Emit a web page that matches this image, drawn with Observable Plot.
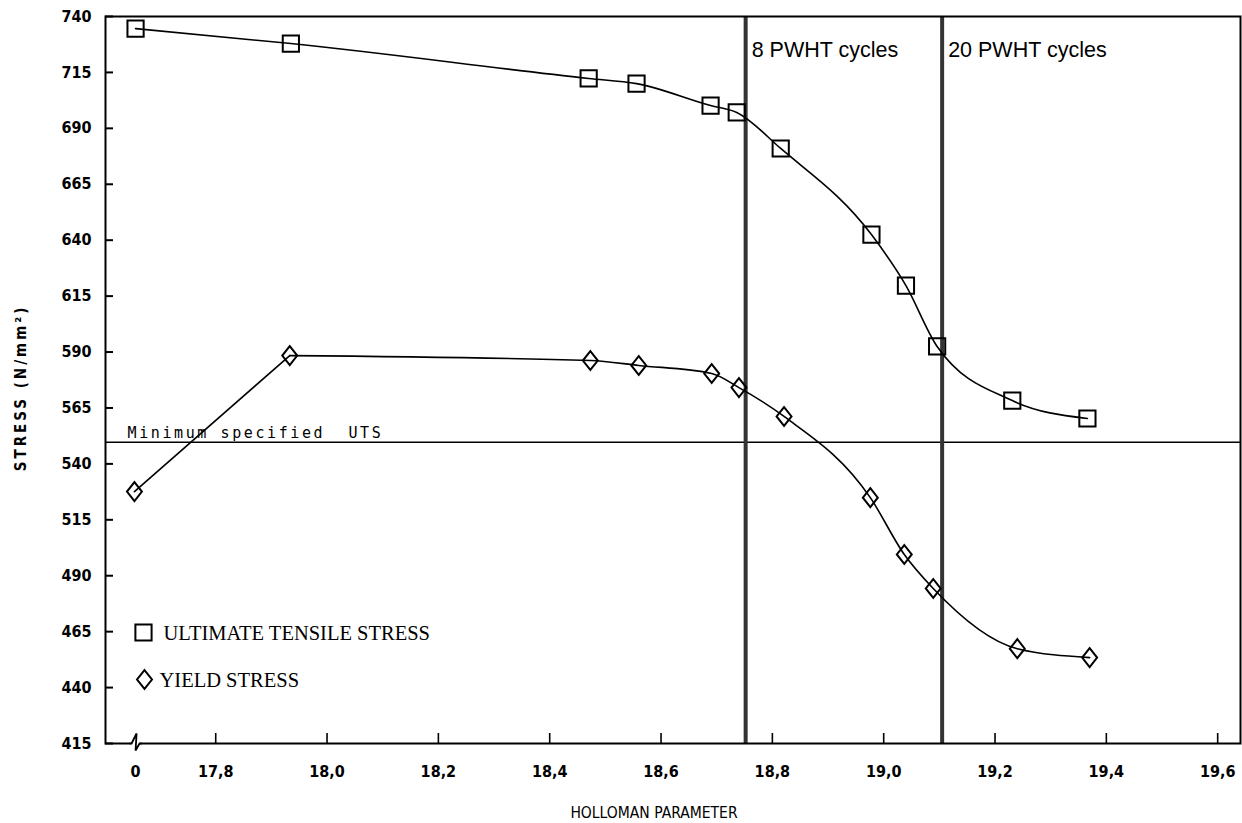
<!DOCTYPE html>
<html><head><meta charset="utf-8">
<script src="https://cdn.jsdelivr.net/npm/d3@7"></script>
<script src="https://cdn.jsdelivr.net/npm/@observablehq/plot@0.6"></script>
<style>
body{margin:0;background:#fff}
[aria-label="ytitle"]{letter-spacing:3px}
[aria-label="utslabel"]{letter-spacing:2.6px}
</style></head><body><div id="chart"></div>
<script>
// ---- data ----
const utsX   = [17.656, 17.935, 18.470, 18.556, 18.689, 18.736, 18.815, 18.978, 19.040, 19.096, 19.231, 19.366];
const utsY   = [734.6, 727.9, 712.3, 710.0, 700.2, 697.1, 681.0, 642.5, 619.7, 592.5, 568.3, 560.3];
const yieldX = [17.654, 17.933, 18.473, 18.560, 18.691, 18.740, 18.821, 18.976, 19.037, 19.089, 19.240, 19.370];
const yieldY = [527.6, 588.4, 586.2, 584.0, 580.4, 574.1, 561.2, 524.9, 499.5, 484.3, 457.4, 453.4];
const xTickValues = [17.656, 17.8, 18.0, 18.2, 18.4, 18.6, 18.8, 19.0, 19.2, 19.4, 19.6];
const xTickLabels = ["0", "17,8", "18,0", "18,2", "18,4", "18,6", "18,8", "19,0", "19,2", "19,4", "19,6"];
const yTicks = [415, 440, 465, 490, 515, 540, 565, 590, 615, 640, 665, 690, 715, 740];
const pwhtX = [18.752, 19.105];
const pwhtLabels = ["8 PWHT cycles", "20 PWHT cycles"];
const minUTS = 549.7;
const minUTSLabel = "Minimum specified\u00a0 UTS";
const legendLabels = ["ULTIMATE TENSILE STRESS", "YIELD STRESS"];
const xTitle = "HOLLOMAN PARAMETER";
const yTitle = "STRESS (N/mm\u00b2)";

const uts = utsX.map((x, i) => ({x, y: utsY[i]}));
const yld = yieldX.map((x, i) => ({x, y: yieldY[i]}));

// ---- symbols ----
const squareSym = {draw(ctx, size) {const r = Math.sqrt(size / Math.PI) * 0.9;
  ctx.moveTo(-r, -r); ctx.lineTo(r, -r); ctx.lineTo(r, r); ctx.lineTo(-r, r); ctx.closePath();}};
const diamondSym = {draw(ctx, size) {const r = Math.sqrt(size / Math.PI);
  ctx.moveTo(0, -r * 1.05); ctx.lineTo(r * 0.83, 0); ctx.lineTo(0, r * 1.05); ctx.lineTo(-r * 0.83, 0); ctx.closePath();}};
const gapSym = {draw(ctx) {ctx.moveTo(-5, -2.5); ctx.lineTo(4.5, -2.5); ctx.lineTo(4.5, 2.5); ctx.lineTo(-5, 2.5); ctx.closePath();}};
const breakSym = {draw(ctx) {ctx.moveTo(-6, 0); ctx.lineTo(-4, 0); ctx.lineTo(1, -10); ctx.lineTo(0, 7); ctx.lineTo(4, 0); ctx.lineTo(6, 0);}};

const W = 1242, H = 823, mL = 105, mR = 2, mT = 16, mB = 80;
const plotW = W - mL - mR, plotH = H - mT - mB;
const tickFont = {fontFamily: "DejaVu Sans Condensed", fontWeight: "bold", fontSize: 16};

const chart = Plot.plot({
  width: W, height: H,
  marginLeft: mL, marginRight: mR, marginTop: mT, marginBottom: mB,
  style: {background: "white", color: "black"},
  x: {domain: [17.602, 19.641], label: null},
  y: {domain: [415, 740], label: null},
  marks: [
    Plot.ruleY([minUTS], {stroke: "black", strokeWidth: 1.5}),
    Plot.ruleX(pwhtX, {stroke: "#333", strokeWidth: 4}),
    Plot.line(uts, {x: "x", y: "y", curve: "monotone-x", stroke: "black", strokeWidth: 1.6}),
    Plot.line(yld.slice(0, 2), {x: "x", y: "y", stroke: "black", strokeWidth: 1.6}),
    Plot.line(yld.slice(1), {x: "x", y: "y", curve: "monotone-x", stroke: "black", strokeWidth: 1.6}),
    Plot.dot(uts, {x: "x", y: "y", symbol: squareSym, r: 9, stroke: "black", strokeWidth: 2, fill: "none"}),
    Plot.dot(yld, {x: "x", y: "y", symbol: diamondSym, r: 9, stroke: "black", strokeWidth: 2, fill: "none"}),
    Plot.tickY(yTicks, {y: d => d, insetRight: plotW - 8, stroke: "black", strokeWidth: 2}),
    Plot.tickX(xTickValues.slice(1), {x: d => d, insetTop: plotH - 10, stroke: "black", strokeWidth: 1.6}),
    Plot.frame({stroke: "black", strokeWidth: 2}),
    Plot.dot([xTickValues[0]], {x: d => d, frameAnchor: "bottom", symbol: gapSym, r: 5, fill: "white", stroke: "none"}),
    Plot.dot([xTickValues[0]], {x: d => d, frameAnchor: "bottom", symbol: breakSym, r: 5, fill: "none", stroke: "black", strokeWidth: 1.8}),
    Plot.axisY(yTicks, {anchor: "left", tickSize: 0, tickPadding: 14, tickFormat: d => String(d), label: null, ...tickFont}),
    Plot.axisX(xTickValues, {anchor: "bottom", tickSize: 0, tickPadding: 22, tickFormat: d => xTickLabels[xTickValues.indexOf(d)], label: null, ...tickFont}),
    Plot.text(pwhtLabels, {x: (d, i) => pwhtX[i], frameAnchor: "top", lineAnchor: "middle", dx: 6, dy: 33.5, textAnchor: "start", fontFamily: "Liberation Sans", fontSize: 21.5}),
    Plot.text([minUTSLabel], {y: () => minUTS, frameAnchor: "left", lineAnchor: "middle", dx: 22, dy: -8.5, textAnchor: "start", fontFamily: "DejaVu Sans Mono", fontSize: 15, ariaLabel: () => "utslabel"}),
    Plot.dot([legendLabels[0]], {frameAnchor: "bottom-left", dx: 38, dy: -111, symbol: squareSym, r: 9, stroke: "black", strokeWidth: 2, fill: "none"}),
    Plot.dot([legendLabels[1]], {frameAnchor: "bottom-left", dx: 39, dy: -64, symbol: diamondSym, r: 9, stroke: "black", strokeWidth: 2, fill: "none"}),
    Plot.text([legendLabels[0]], {frameAnchor: "bottom-left", lineAnchor: "middle", dx: 58, dy: -110, textAnchor: "start", fontFamily: "Liberation Serif", fontSize: 20.5}),
    Plot.text([legendLabels[1]], {frameAnchor: "bottom-left", lineAnchor: "middle", dx: 54, dy: -63, textAnchor: "start", fontFamily: "Liberation Serif", fontSize: 20.5}),
    Plot.text([xTitle], {frameAnchor: "bottom", lineAnchor: "middle", textAnchor: "middle", dx: -19, dy: 70, fontFamily: "DejaVu Sans Condensed", fontSize: 15.5}),
    Plot.text([yTitle], {frameAnchor: "left", lineAnchor: "middle", textAnchor: "middle", dx: -84, dy: 8, rotate: -90, fontFamily: "DejaVu Sans Condensed", fontWeight: "bold", fontSize: 15, ariaLabel: () => "ytitle"})
  ]
});
document.getElementById("chart").appendChild(chart);
</script></body></html>
